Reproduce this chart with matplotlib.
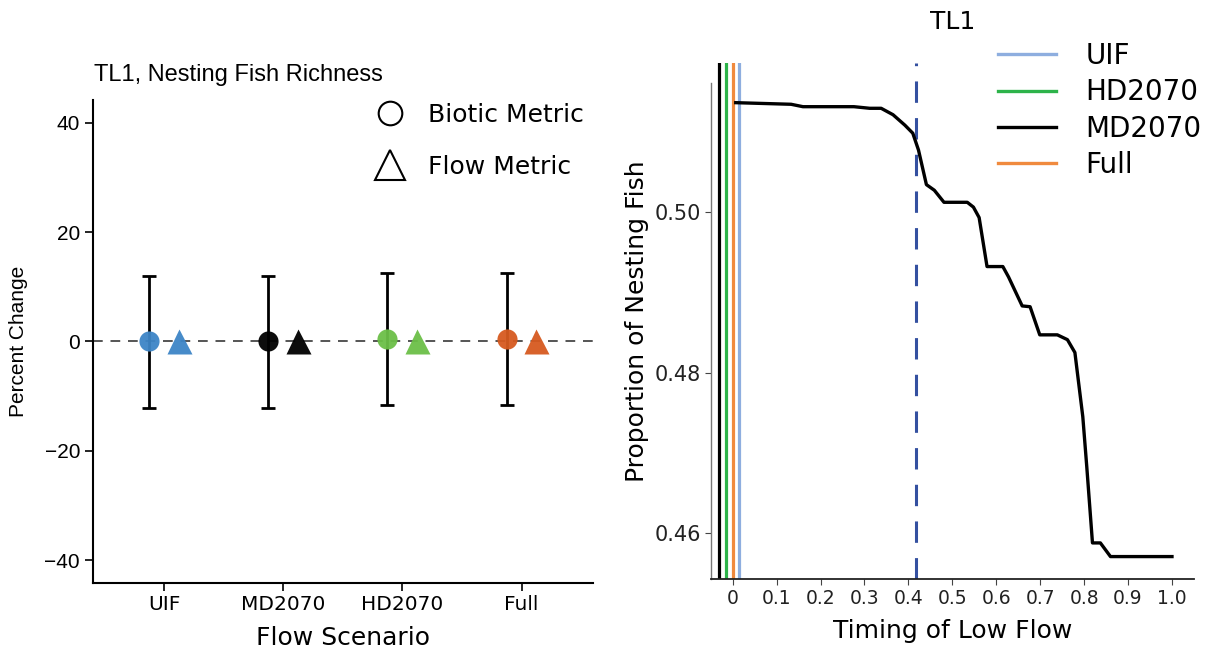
import matplotlib
matplotlib.use("Agg")
import matplotlib.pyplot as plt
import numpy as np
from matplotlib.lines import Line2D

# ---- left panel data: percent change per flow scenario ----
scenarios = ["UIF", "MD2070", "HD2070", "Full"]
scenario_colors = ["#3D85C6", "#000000", "#6BBF47", "#D65A1F"]
biotic_change = [0.0, 0.0, 0.5, 0.5]
biotic_lower = [-12.2, -12.2, -11.6, -11.6]
biotic_upper = [12.0, 12.0, 12.5, 12.5]
flow_change = [0.0, 0.0, 0.0, 0.0]

# ---- right panel data: proportion of nesting fish vs timing of low flow ----
timing = [0.007, 0.133, 0.160, 0.276, 0.312, 0.338, 0.365, 0.392, 0.410,
          0.423, 0.441, 0.459, 0.481, 0.534, 0.548, 0.561, 0.579, 0.615,
          0.628, 0.659, 0.677, 0.699, 0.739, 0.762, 0.779, 0.797, 0.806,
          0.819, 0.837, 0.860, 1.0]
proportion = [0.5136, 0.5134, 0.5131, 0.5131, 0.5129, 0.5129, 0.5121, 0.5108,
              0.5098, 0.5077, 0.5034, 0.5027, 0.5012, 0.5012, 0.5006, 0.4993,
              0.4932, 0.4932, 0.4919, 0.4883, 0.4882, 0.4847, 0.4847, 0.4841,
              0.4825, 0.4745, 0.4683, 0.4588, 0.4588, 0.4571, 0.4571]
threshold = 0.417
line_names = ["UIF", "HD2070", "MD2070", "Full"]
line_colors = ["#8EAEDF", "#2DB34A", "#000000", "#F08A3E"]
line_timing = [0.014, -0.016, -0.030, 0.0]

GOTHIC = "DejaVu Sans"
ARIAL = "Liberation Sans"

fig = plt.figure(figsize=(12.13, 6.54), dpi=100)

# ================= left panel =================
ax = fig.add_axes([0.0763, 0.1086, 0.4126, 0.7385])
pos = np.arange(1, len(scenarios) + 1)
dodge = 0.125

ax.axhline(0, color="#555555", lw=1.4, ls=(0, (5, 4)), zorder=1)
for i, name in enumerate(scenarios):
    x = pos[i] - dodge
    ax.errorbar([x], [biotic_change[i]],
                yerr=[[biotic_change[i] - biotic_lower[i]],
                      [biotic_upper[i] - biotic_change[i]]],
                fmt="none", ecolor="black", elinewidth=2, capsize=5,
                capthick=2, zorder=2)
    ax.plot(x, biotic_change[i], "o", color=scenario_colors[i], ms=14.5,
            mec="none", alpha=0.95, zorder=3)
    ax.plot(pos[i] + dodge, flow_change[i], "^", color=scenario_colors[i],
            ms=18, mec="none", alpha=0.95, zorder=3)

ax.set_xlim(0.4, 4.6)
ax.set_ylim(-44.2, 44.2)
ax.set_xticks(pos)
ax.set_xticklabels(scenarios, fontsize=14.5, family=GOTHIC)
ax.set_yticks([-40, -20, 0, 20, 40])
ax.set_yticklabels(["\u221240", "\u221220", "0", "20", "40"],
                   fontsize=15, family=ARIAL)
ax.tick_params(axis="both", length=6, width=1.2, color="black", pad=3)
for side in ["top", "right"]:
    ax.spines[side].set_visible(False)
for side in ["left", "bottom"]:
    ax.spines[side].set_linewidth(1.5)
ax.set_xlabel("Flow Scenario", fontsize=18, family=GOTHIC, labelpad=8)
ax.set_ylabel("Percent Change", fontsize=15, family=ARIAL, labelpad=12)

fig.text(0.0775, 1 - 75 / 654, "TL1, Nesting Fish Richness", fontsize=17,
         family=ARIAL, va="center", ha="left")

shape_handles = [
    Line2D([], [], ls="none", marker="o", ms=17, mfc="none", mec="black", mew=1.5),
    Line2D([], [], ls="none", marker="^", ms=22, mfc="none", mec="black", mew=1.5),
]
fig.legend(shape_handles, ["Biotic Metric", "Flow Metric"],
           loc="upper left", bbox_to_anchor=(375 / 1213, 1 - 103 / 654),
           frameon=False, borderpad=0, borderaxespad=0,
           handlelength=1.2, handletextpad=0.9, labelspacing=1.1,
           prop={"family": GOTHIC, "size": 18})

# ================= right panel =================
ax2 = fig.add_axes([0.5859, 0.1142, 0.3984, 0.789])
for name, color, t in zip(line_names, line_colors, line_timing):
    ax2.axvline(t, color=color, lw=2.3, zorder=2)
ax2.axvline(threshold, color="#3450A0", lw=2.2, ls=(0, (7, 5)), zorder=2)
ax2.plot(timing, proportion, color="black", lw=2.4, zorder=3,
         solid_joinstyle="round")

ax2.set_xlim(-0.05, 1.05)
ax2.set_ylim(0.45427, 0.5185)
ax2.set_xticks(np.round(np.arange(0, 1.01, 0.1), 1))
ax2.set_xticklabels(["0"] + [f"{v:.1f}" for v in np.arange(0.1, 1.01, 0.1)],
                    fontsize=13.5, family=GOTHIC, color="#222222")
ax2.set_yticks([0.46, 0.48, 0.50])
ax2.set_yticklabels(["0.46", "0.48", "0.50"], fontsize=15, family=GOTHIC,
                    color="#222222")
ax2.tick_params(axis="both", length=4, width=0.8, color="#444444", pad=3)
for side in ["top", "right"]:
    ax2.spines[side].set_visible(False)
ax2.spines["left"].set_bounds(0.45427, 0.5161)
ax2.spines["left"].set_color("#777777")
ax2.spines["left"].set_linewidth(1.0)
ax2.spines["bottom"].set_color("#222222")
ax2.spines["bottom"].set_linewidth(1.3)
ax2.set_xlabel("Timing of Low Flow", fontsize=18, family=GOTHIC, labelpad=8)
ax2.set_ylabel("Proportion of Nesting Fish", fontsize=18, family=GOTHIC,
               labelpad=4)

fig.text(953 / 1213, 1 - 22 / 654, "TL1", fontsize=18, family=GOTHIC,
         ha="center", va="center")

line_handles = [Line2D([], [], color=c, lw=2.4) for c in line_colors]
fig.legend(line_handles, line_names, loc="upper left",
           bbox_to_anchor=(998 / 1213, 1 - 42 / 654), frameon=False,
           borderpad=0, borderaxespad=0, handlelength=2.1, handletextpad=1.05,
           labelspacing=0.3, prop={"family": GOTHIC, "size": 20})

fig.savefig("out.png", dpi=100)
